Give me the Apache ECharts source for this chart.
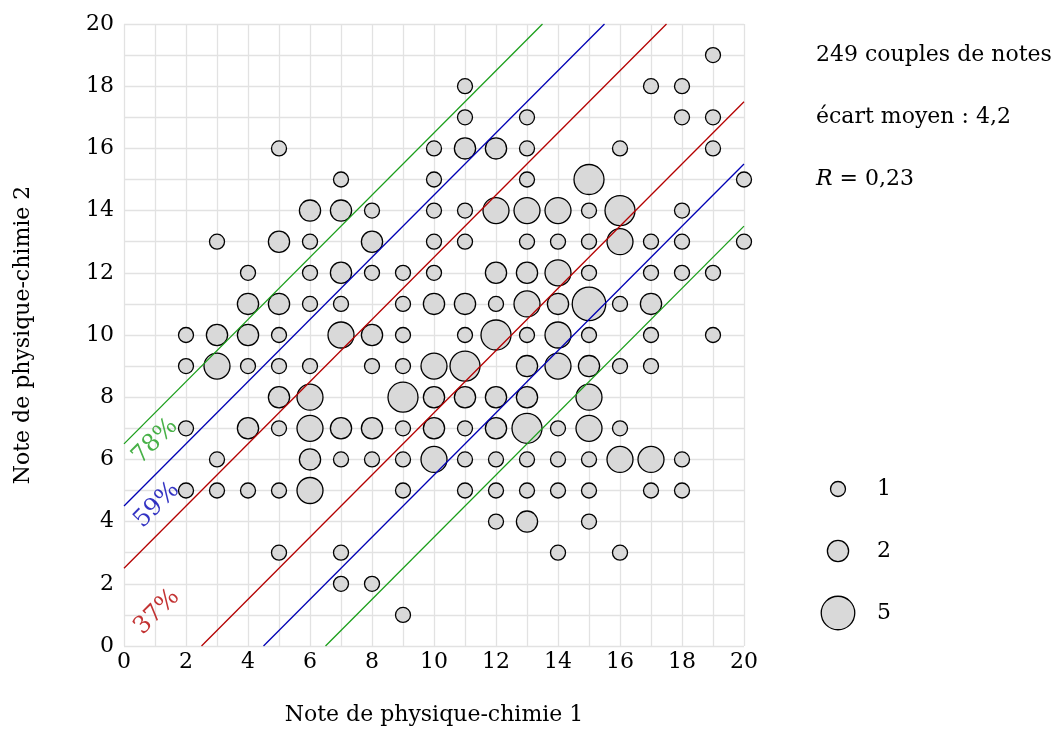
<!DOCTYPE html>
<html><head><meta charset="utf-8">
<script src="https://cdn.jsdelivr.net/npm/echarts@6/dist/echarts.min.js"></script>
<style>html,body{margin:0;padding:0;background:#fff}#c{width:1057px;height:731px}</style>
</head><body><div id="c"></div>
<script>
// [note 1, note 2, effectif]
const bubbles = [
  [19,19,1],
  [11,18,1],[17,18,1],[18,18,1],
  [11,17,1],[13,17,1],[18,17,1],[19,17,1],
  [5,16,1],[10,16,1],[11,16,2],[12,16,2],[13,16,1],[16,16,1],[19,16,1],
  [7,15,1],[10,15,1],[13,15,1],[15,15,4],[20,15,1],
  [6,14,2],[7,14,2],[8,14,1],[10,14,1],[11,14,1],[12,14,3],[13,14,3],[14,14,3],[15,14,1],[16,14,4],[18,14,1],
  [3,13,1],[5,13,2],[6,13,1],[8,13,2],[10,13,1],[11,13,1],[13,13,1],[14,13,1],[15,13,1],[16,13,3],[17,13,1],[18,13,1],[20,13,1],
  [4,12,1],[6,12,1],[7,12,2],[8,12,1],[9,12,1],[10,12,1],[12,12,2],[13,12,2],[14,12,3],[15,12,1],[17,12,1],[18,12,1],[19,12,1],
  [4,11,2],[5,11,2],[6,11,1],[7,11,1],[9,11,1],[10,11,2],[11,11,2],[12,11,1],[13,11,3],[14,11,2],[15,11,5],[16,11,1],[17,11,2],
  [2,10,1],[3,10,2],[4,10,2],[5,10,1],[7,10,3],[8,10,2],[9,10,1],[11,10,1],[12,10,4],[13,10,1],[14,10,3],[15,10,1],[17,10,1],[19,10,1],
  [2,9,1],[3,9,3],[4,9,1],[5,9,1],[6,9,1],[8,9,1],[9,9,1],[10,9,3],[11,9,4],[13,9,2],[14,9,3],[15,9,2],[16,9,1],[17,9,1],
  [5,8,2],[6,8,3],[9,8,4],[10,8,2],[11,8,2],[12,8,2],[13,8,2],[15,8,3],
  [2,7,1],[4,7,2],[5,7,1],[6,7,3],[7,7,2],[8,7,2],[9,7,1],[10,7,2],[11,7,1],[12,7,2],[13,7,4],[14,7,1],[15,7,3],[16,7,1],
  [3,6,1],[6,6,2],[7,6,1],[8,6,1],[9,6,1],[10,6,3],[11,6,1],[12,6,1],[13,6,1],[14,6,1],[15,6,1],[16,6,3],[17,6,3],[18,6,1],
  [2,5,1],[3,5,1],[4,5,1],[5,5,1],[6,5,3],[9,5,1],[11,5,1],[12,5,1],[13,5,1],[14,5,1],[15,5,1],[17,5,1],[18,5,1],
  [12,4,1],[13,4,2],[15,4,1],
  [5,3,1],[7,3,1],[14,3,1],[16,3,1],
  [7,2,1],[8,2,1],
  [9,1,1]
];
const bandOffsets = [2.5, 4.5, 6.5];
const bandLabels = ['37%', '59%', '78%'];
const bandColors = ['#b40000', '#0000b4', '#1a9e1a'];
const bandLabelPos = [[1.06, 1.09], [1.06, 4.53], [1.0, 6.58]];
const legendCounts = [1, 2, 5];
const infoLines = ['249 couples de notes', 'écart moyen : 4,2', '{i|R} = 0,23'];

const FONT = 'DejaVu Serif';
const FS = 22;
function sizeOf(n) { return 15 * Math.sqrt(n); }

const chart = echarts.init(document.getElementById('c'));
const series = [];
series.push({
  type: 'scatter', data: bubbles, symbol: 'circle',
  symbolSize: d => sizeOf(d[2]),
  itemStyle: { color: '#d9d9d9', borderColor: '#000', borderWidth: 1.3, opacity: 1 },
  z: 3, silent: true
});
bandOffsets.forEach((c, i) => {
  const ls = { color: bandColors[i], width: 1.3 };
  series.push({ type: 'line', data: [[0, c], [20 - c, 20]], symbol: 'none', lineStyle: ls, z: 4, silent: true });
  series.push({ type: 'line', data: [[c, 0], [20, 20 - c]], symbol: 'none', lineStyle: ls, z: 4, silent: true });
});
series.push({
  type: 'scatter', symbolSize: 0, z: 5, silent: true,
  data: bandLabelPos.map((p, i) => ({
    value: p,
    label: { formatter: bandLabels[i], color: bandColors[i] }
  })),
  label: { show: true, rotate: 45, position: 'inside', fontSize: 24, fontFamily: FONT }
});

const axisCommon = {
  type: 'value', min: 0, max: 20, interval: 1,
  axisLine: { show: false }, axisTick: { show: false },
  splitLine: { show: true, lineStyle: { color: '#e2e2e2', width: 1.3 } },
  nameLocation: 'middle',
  nameTextStyle: { fontSize: FS, fontFamily: FONT, color: '#000' }
};

const graphics = [];
infoLines.forEach((t, i) => {
  graphics.push({
    type: 'text', x: 816, y: [55, 117, 179][i],
    style: {
      text: t, fontSize: FS, fontFamily: FONT, fill: '#000',
      verticalAlign: 'middle', align: 'left',
      rich: { i: { fontStyle: 'italic', fontSize: FS, fontFamily: FONT, fill: '#000' } }
    }
  });
});
legendCounts.forEach((n, i) => {
  const cy = 489 + i * 62;
  graphics.push({
    type: 'circle', shape: { cx: 838, cy: cy, r: sizeOf(n) / 2 },
    style: { fill: '#d9d9d9', stroke: '#000', lineWidth: 1.3 }
  });
  graphics.push({
    type: 'text', x: 877, y: cy,
    style: { text: String(n), fontSize: FS, fontFamily: FONT, fill: '#000', verticalAlign: 'middle', align: 'left' }
  });
});

chart.setOption({
  animation: false,
  backgroundColor: '#fff',
  grid: { left: 124, right: 313, top: 24, bottom: 84 },
  xAxis: Object.assign({}, axisCommon, {
    name: 'Note de physique-chimie 1', nameGap: 58,
    axisLabel: { margin: 5, fontSize: FS, fontFamily: FONT, color: '#000',
      formatter: v => (v % 2 === 0 ? String(v) : '') }
  }),
  yAxis: Object.assign({}, axisCommon, {
    name: 'Note de physique-chimie 2', nameGap: 90,
    axisLabel: { margin: 10, fontSize: FS, fontFamily: FONT, color: '#000',
      formatter: v => (v % 2 === 0 ? String(v) : '') }
  }),
  series: series,
  graphic: graphics
});
</script></body></html>
